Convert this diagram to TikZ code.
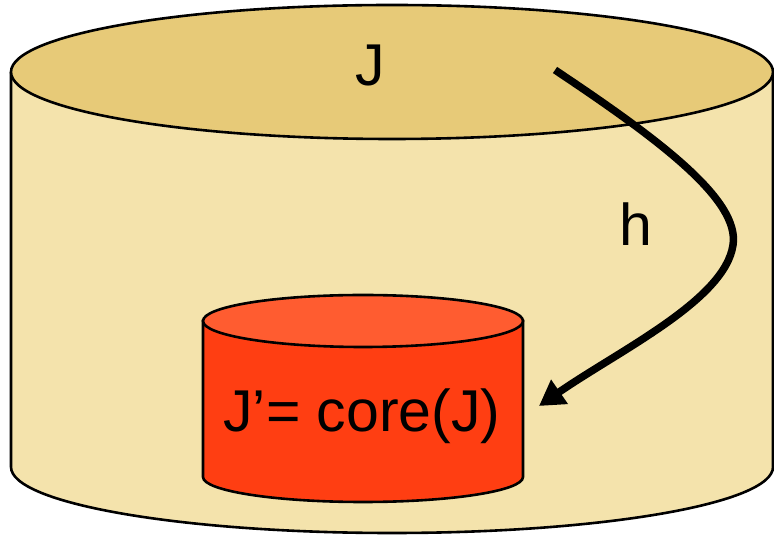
\documentclass[tikz,border=0pt]{standalone}
\usepackage{fontspec}
\setmainfont{Liberation Sans}
\usetikzlibrary{arrows.meta}
\definecolor{jTop}{RGB}{231,202,120}
\definecolor{jSide}{RGB}{244,227,172}
\definecolor{coreTop}{RGB}{255,92,48}
\definecolor{coreSide}{RGB}{255,62,18}

\begin{document}
\begin{tikzpicture}[x=1pt,y=1pt,>={Triangle[length=25pt,width=28pt]},
  lbl/.style={font=\fontsize{59}{70}\selectfont,anchor=base,inner sep=0pt},
  rim/.style={draw=black,line width=2.6pt}]
\useasboundingbox (0,0) rectangle (774,535);
% outer cylinder J
\fill[jSide] (11,463)--(11,68) arc[start angle=180,end angle=360,x radius=381,y radius=66]--(773,463)--cycle;
\draw[rim] (11,463)--(11,68) arc[start angle=180,end angle=360,x radius=381,y radius=66]--(773,463);
\filldraw[fill=jTop,rim] (392,463) ellipse (381 and 67);
% inner cylinder core(J)
\filldraw[fill=coreSide,rim] (203,214)--(203,58) arc[start angle=180,end angle=360,x radius=160,y radius=25]--(523,214)--cycle;
\filldraw[fill=coreTop,rim] (363,214) ellipse (160 and 26);
\node[lbl] (J) at (370,449) {J};
\node[lbl] (h) at (636,289) {h};
\node[lbl] (core) at (362,103) {J’= core(J)};
% homomorphism h
\coordinate (hStart) at (555,465); \coordinate (hEnd) at (539,129);
\draw[->,line width=7.5pt] (hStart) .. controls (660,395) and (740,335) .. (733,290) .. controls (725,235) and (620,185) .. (hEnd);
\end{tikzpicture}
\end{document}
